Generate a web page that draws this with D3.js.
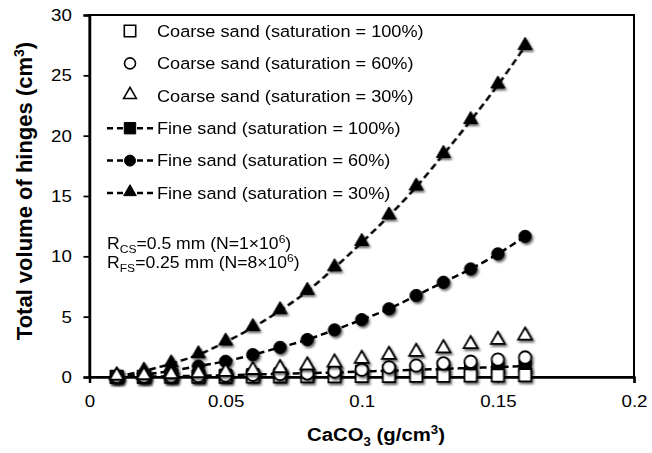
<!DOCTYPE html>
<html>
<head>
<meta charset="utf-8">
<script src="https://cdn.jsdelivr.net/npm/d3@7"></script>
<style>
  body { margin: 0; background: #fff; }
  text { font-family: "Liberation Sans", Arial, sans-serif; fill: #000; }
</style>
</head>
<body>
<div id="chart"></div>
<script>
// data
var caco3 = [0.01, 0.02, 0.03, 0.04, 0.05, 0.06, 0.07, 0.08, 0.09, 0.10, 0.11, 0.12, 0.13, 0.14, 0.15, 0.16];
var coarse100 = [0.01, 0.01, 0.02, 0.02, 0.03, 0.04, 0.05, 0.06, 0.07, 0.08, 0.09, 0.10, 0.11, 0.12, 0.13, 0.14];
var coarse60 = [0.01, 0.02, 0.04, 0.08, 0.12, 0.18, 0.25, 0.30, 0.45, 0.60, 0.80, 0.95, 1.13, 1.27, 1.45, 1.62];
var coarse30 = [0.03, 0.08, 0.15, 0.25, 0.35, 0.50, 0.65, 0.88, 1.12, 1.42, 1.75, 2.00, 2.30, 2.65, 3.00, 3.35];
var fine100 = [0.01, 0.03, 0.06, 0.10, 0.15, 0.20, 0.25, 0.32, 0.38, 0.45, 0.52, 0.60, 0.67, 0.75, 0.82, 0.90];
var fine60 = [0.05, 0.20, 0.50, 0.90, 1.30, 1.85, 2.45, 3.10, 3.90, 4.75, 5.65, 6.75, 7.85, 8.95, 10.20, 11.65];
var fine30 = [0.05, 0.50, 1.10, 1.85, 2.90, 4.10, 5.50, 7.10, 9.05, 11.15, 13.35, 15.75, 18.45, 21.25, 24.20, 27.40];

var xTicks = [0, 0.05, 0.1, 0.15, 0.2];
var yTicks = [0, 5, 10, 15, 20, 25, 30];

var seriesNames = [
  "Coarse sand (saturation = 100%)",
  "Coarse sand (saturation = 60%)",
  "Coarse sand (saturation = 30%)",
  "Fine sand (saturation = 100%)",
  "Fine sand (saturation = 60%)",
  "Fine sand (saturation = 30%)"
];

var series = [
  { name: seriesNames[0], values: coarse100, shape: "square", filled: false, line: false },
  { name: seriesNames[1], values: coarse60, shape: "circle", filled: false, line: false },
  { name: seriesNames[2], values: coarse30, shape: "triangle", filled: false, line: false },
  { name: seriesNames[3], values: fine100, shape: "square", filled: true, line: true },
  { name: seriesNames[4], values: fine60, shape: "circle", filled: true, line: true },
  { name: seriesNames[5], values: fine30, shape: "triangle", filled: true, line: true }
];

var W = 652, H = 453;
var margin = { top: 15, right: 18, bottom: 76, left: 89.5 },
  width = W - margin.left - margin.right,
  height = H - margin.top - margin.bottom;

var stretch = 1.1; // the original text looks a bit wide

var svg = d3.select("#chart")
  .append("svg")
  .attr("width", W)
  .attr("height", H);

var defs = svg.append("defs");
var shadow = defs.append("filter")
  .attr("id", "shadow")
  .attr("x", "-50%").attr("y", "-50%")
  .attr("width", "200%").attr("height", "200%");
shadow.append("feDropShadow")
  .attr("dx", 1.5).attr("dy", 2)
  .attr("stdDeviation", 1.3)
  .attr("flood-color", "#000")
  .attr("flood-opacity", 0.6);

var g = svg.append("g")
  .attr("transform", "translate(" + margin.left + "," + margin.top + ")");

var x = d3.scaleLinear().domain([0, 0.2]).range([0, width]);
var y = d3.scaleLinear().domain([0, 30]).range([height, 0]);

// frame
g.append("rect")
  .attr("width", width)
  .attr("height", height)
  .attr("fill", "none")
  .attr("stroke", "#000")
  .attr("stroke-width", 2);

// axes
var xAxis = g.append("g")
  .attr("transform", "translate(0," + height + ")")
  .call(d3.axisBottom(x).tickValues(xTicks).tickSize(6).tickPadding(12)
    .tickFormat(function (d) { return d3.format("")(+d.toFixed(2)); }));
var yAxis = g.append("g")
  .call(d3.axisLeft(y).tickValues(yTicks).tickSize(6).tickPadding(10));

[xAxis, yAxis].forEach(function (a) {
  a.select(".domain").attr("stroke", "#000").attr("stroke-width", 2.5);
  a.selectAll(".tick line").attr("stroke", "#000").attr("stroke-width", 1.8);
  a.selectAll(".tick text")
    .style("font-family", "'Liberation Sans', Arial, sans-serif")
    .style("font-size", "17px")
    .attr("fill", "#000");
});
xAxis.selectAll(".tick text").attr("transform", "scale(" + stretch + ",1)");
yAxis.selectAll(".tick text").attr("transform", "scale(" + stretch + ",1)");

// axis titles
var xt = svg.append("text")
  .attr("transform", "translate(376,441) scale(" + stretch + ",1)")
  .attr("text-anchor", "middle")
  .style("font-size", "18.5px")
  .style("font-weight", "bold");
xt.append("tspan").text("CaCO");
xt.append("tspan").attr("dy", 5).style("font-size", "12px").text("3");
xt.append("tspan").attr("dy", -5).text(" (g/cm");
xt.append("tspan").attr("dy", -7).style("font-size", "12px").text("3");
xt.append("tspan").attr("dy", 7).text(")");

var yt = svg.append("text")
  .attr("transform", "translate(32,191) rotate(-90)")
  .attr("text-anchor", "middle")
  .style("font-size", "22px")
  .style("font-weight", "bold");
yt.append("tspan").text("Total volume of hinges (cm");
yt.append("tspan").attr("dy", -8).style("font-size", "14px").text("3");
yt.append("tspan").attr("dy", 8).text(")");

// markers
var symType = { square: d3.symbolSquare, circle: d3.symbolCircle, triangle: d3.symbolTriangle };
var symSize = { square: 150, circle: 120, triangle: 85 };

function symbolPath(s) {
  return d3.symbol().type(symType[s.shape]).size(symSize[s.shape])();
}

var line = d3.line()
  .x(function (d) { return x(d.x); })
  .y(function (d) { return y(d.y); })
  .curve(d3.curveMonotoneX);

// fine sand first, coarse sand on top
var drawOrder = [3, 4, 5, 0, 1, 2];
drawOrder.forEach(function (i) {
  var s = series[i];
  var pts = caco3.map(function (c, j) { return { x: c, y: s.values[j] }; });
  if (s.line) {
    g.append("path")
      .datum(pts)
      .attr("fill", "none")
      .attr("stroke", "#000")
      .attr("stroke-width", 2.5)
      .attr("stroke-dasharray", "7,4")
      .attr("d", line);
  }
  g.append("g")
    .attr("filter", "url(#shadow)")
    .selectAll("path")
    .data(pts)
    .enter()
    .append("path")
    .attr("transform", function (d) {
      var dy = s.shape === "triangle" ? -1 : 0;
      return "translate(" + x(d.x) + "," + (y(d.y) + dy) + ")";
    })
    .attr("d", symbolPath(s))
    .attr("fill", s.filled ? "#000" : "#fff")
    .attr("stroke", "#000")
    .attr("stroke-width", s.filled ? 1 : 1.8);
});

// legend
var legend = svg.append("g");
var rows = legend.selectAll("g")
  .data(series)
  .enter()
  .append("g")
  .attr("transform", function (d, i) { return "translate(0," + (31 + i * 32.4) + ")"; });

rows.filter(function (d) { return d.line; })
  .append("line")
  .attr("x1", 107).attr("x2", 153)
  .attr("stroke", "#000")
  .attr("stroke-width", 2.5)
  .attr("stroke-dasharray", "6,4");

rows.append("path")
  .attr("transform", function (d) { return "translate(130," + (d.shape === "triangle" ? -1 : 0) + ")"; })
  .attr("d", function (d) {
    var sz = { square: 130, circle: 95, triangle: 70 }[d.shape];
    return d3.symbol().type(symType[d.shape]).size(sz)();
  })
  .attr("fill", function (d) { return d.filled ? "#000" : "#fff"; })
  .attr("stroke", "#000")
  .attr("stroke-width", function (d) { return d.filled ? 1 : 1.6; });

rows.append("text")
  .attr("transform", "translate(157,0) scale(" + stretch + ",1)")
  .attr("dy", "0.35em")
  .style("font-size", "16.5px")
  .text(function (d) { return d.name; });

// annotation
var notes = [
  { sub: "CS", value: "=0.5 mm (N=1×10", exp: "6" },
  { sub: "FS", value: "=0.25 mm (N=8×10", exp: "6" }
];
notes.forEach(function (n, i) {
  var t = svg.append("text")
    .attr("transform", "translate(107," + (249 + i * 19) + ") scale(" + stretch + ",1)")
    .style("font-size", "16px");
  t.append("tspan").text("R");
  t.append("tspan").attr("dy", 4).style("font-size", "11px").text(n.sub);
  t.append("tspan").attr("dy", -4).text(n.value);
  t.append("tspan").attr("dy", -6).style("font-size", "11px").text(n.exp);
  t.append("tspan").attr("dy", 6).text(")");
});
</script>
</body>
</html>
